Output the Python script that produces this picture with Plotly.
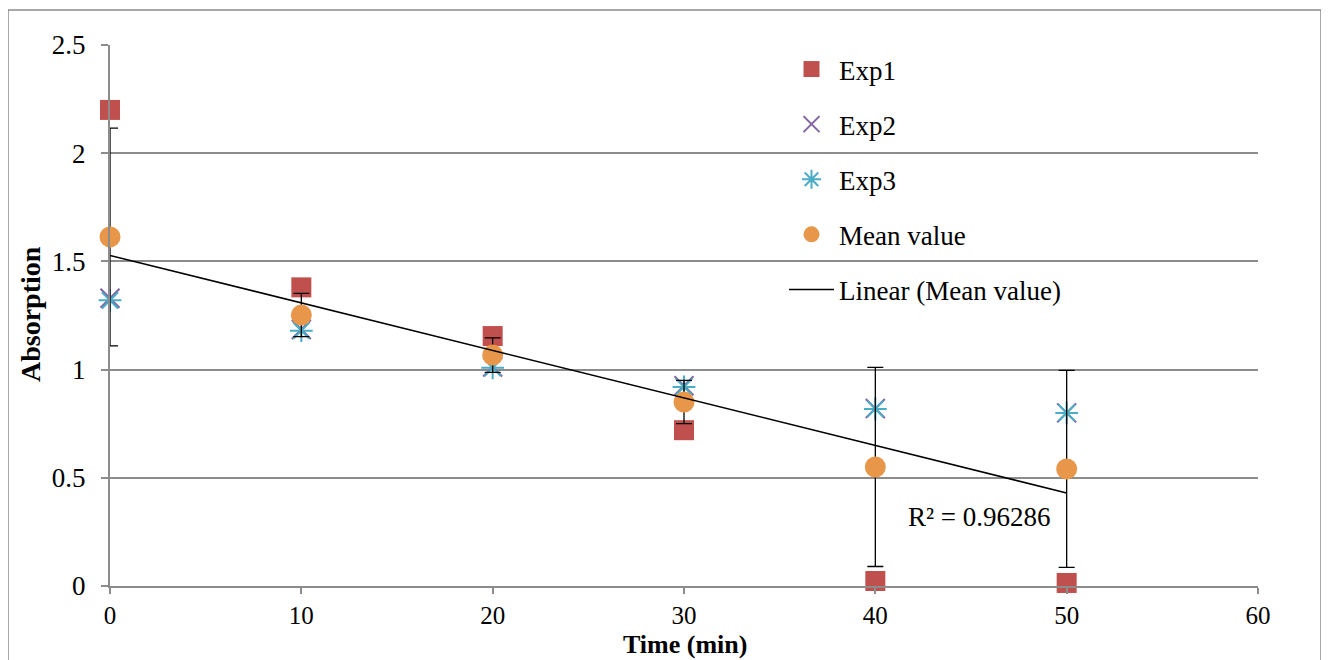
import numpy as np
import plotly.graph_objects as go

time_min = [0, 10, 20, 30, 40, 50]
exp1 = [2.20, 1.38, 1.155, 0.72, 0.023, 0.014]
exp2 = [1.33, 1.185, 1.012, 0.925, 0.82, 0.80]
exp3 = [1.32, 1.18, 1.008, 0.92, 0.818, 0.80]
mean_value = [1.613, 1.252, 1.067, 0.850, 0.550, 0.541]
mean_err = [0.503, 0.10, 0.08, 0.10, 0.46, 0.455]
r2_text = "R² = 0.96286"

FONT = "Liberation Serif"
FS = 27

slope, intercept = np.polyfit(time_min, mean_value, 1)
trend_x = [time_min[0], time_min[-1]]
trend_y = [intercept + slope * t for t in trend_x]

fig = go.Figure()
fig.add_trace(go.Scatter(x=time_min, y=exp1, mode="markers", name="Exp1",
                         legendgroup="a", cliponaxis=False,
                         marker=dict(symbol="square", size=20, color="#C0504D")))
fig.add_trace(go.Scatter(x=time_min, y=exp2, mode="markers", name="Exp2",
                         legendgroup="b", cliponaxis=False,
                         marker=dict(symbol="x-thin-open", size=19, color="#8064A2",
                                     line=dict(color="#8064A2", width=2))))
fig.add_trace(go.Scatter(x=time_min, y=exp3, mode="markers", name="Exp3",
                         legendgroup="c", cliponaxis=False,
                         marker=dict(symbol="asterisk-open", size=19, color="#4BACC6",
                                     line=dict(color="#4BACC6", width=2))))
fig.add_trace(go.Scatter(x=time_min, y=mean_value, mode="markers", name="Mean value",
                         legendgroup="d", cliponaxis=False,
                         marker=dict(symbol="circle", size=21, color="#E8964A"),
                         error_y=dict(type="data", array=mean_err, visible=True,
                                      color="black", thickness=1.3, width=8)))
fig.add_trace(go.Scatter(x=trend_x, y=trend_y, mode="lines", name="Linear (Mean value)",
                         legendgroup="e", cliponaxis=False,
                         line=dict(color="black", width=1.6)))

# white legend backdrop covering gridlines
fig.add_shape(type="rect", xref="paper", yref="paper",
              x0=(716 - 110) / 1148, x1=(1138 - 110) / 1148,
              y0=(586 - 318) / 541, y1=(586 - 42) / 541,
              fillcolor="white", line=dict(width=0), layer="between")
# outer chart border
fig.add_shape(type="rect", xref="paper", yref="paper",
              x0=(8 - 110) / 1148, x1=(1321 - 110) / 1148,
              y0=(586 - 700) / 541, y1=(586 - 10) / 541,
              line=dict(color="#8C8C8C", width=1.5), fillcolor="rgba(0,0,0,0)")

fig.add_annotation(x=41.6, y=0.32, text=r2_text, showarrow=False,
                   xanchor="left", yanchor="middle",
                   font=dict(family=FONT, size=FS, color="black"))
# axis titles
fig.add_annotation(xref="paper", yref="paper", x=(685 - 110) / 1148, y=(586 - 644) / 541,
                   text="<b>Time (min)</b>", showarrow=False,
                   xanchor="center", yanchor="middle",
                   font=dict(family=FONT, size=26, color="black"))
fig.add_annotation(xref="paper", yref="paper", x=(30 - 110) / 1148, y=(586 - 314) / 541,
                   text="<b>Absorption</b>", showarrow=False, textangle=-90,
                   xanchor="center", yanchor="middle",
                   font=dict(family=FONT, size=28, color="black"))

fig.update_layout(
    width=1321, height=652,
    margin=dict(l=102, r=71, t=37, b=74, autoexpand=False),
    paper_bgcolor="white", plot_bgcolor="white",
    font=dict(family=FONT, size=FS, color="black"),
    showlegend=True,
    legend=dict(x=(784 - 110) / 1148, y=(586 - 45) / 541, xanchor="left", yanchor="top",
                bgcolor="rgba(0,0,0,0)", tracegroupgap=17,
                font=dict(family=FONT, size=FS, color="black"),
                itemsizing="trace", itemwidth=45),
)
fig.update_xaxes(range=[0, 60], dtick=10, tick0=0, automargin=False,
                 showgrid=False, showline=True, linecolor="#8C8C8C", linewidth=2,
                 ticks="outside", ticklen=6, tickcolor="#8C8C8C", tickwidth=1.5,
                 zeroline=False, ticklabelstandoff=0,
                 tickfont=dict(family=FONT, size=25))
fig.update_yaxes(range=[0, 2.5], dtick=0.5, tick0=0, automargin=False,
                 showgrid=True, gridcolor="#8C8C8C", gridwidth=1.5,
                 showline=True, linecolor="#8C8C8C", linewidth=2,
                 ticks="outside", ticklen=7, tickcolor="#8C8C8C", tickwidth=1.5,
                 zeroline=False, ticklabelstandoff=10)

fig.write_html("out.html")
